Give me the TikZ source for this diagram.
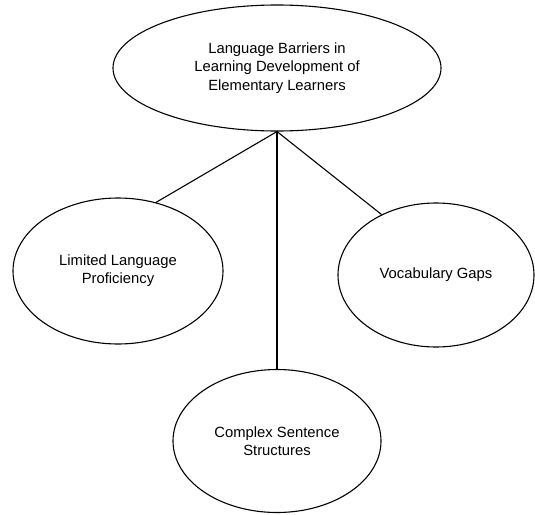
\documentclass[tikz,border=0pt]{standalone}
\usepackage{fontspec}
\setmainfont{Liberation Sans}
\usetikzlibrary{shapes.geometric}
\begin{document}
\begin{tikzpicture}[x=1pt,y=-1pt,
  bubble/.style={draw=black, line width=1.1pt, ellipse, inner sep=0pt,
    align=center, font=\fontsize{14.8}{18.3}\selectfont},
  link/.style={draw=black, line width=1.1pt}]
\useasboundingbox (0,0) rectangle (535,514);
% central topic
\node[bubble, minimum width=328pt, minimum height=126pt] (top) at (277,68)
  {Language Barriers in\\Learning Development of\\Elementary Learners};
% three sub-topics
\node[bubble, minimum width=210pt, minimum height=146pt] (lim) at (118,271)
  {Limited Language\\Proficiency};
\node[bubble, minimum width=196pt, minimum height=144pt] (voc) at (436,275)
  {Vocabulary Gaps};
\node[bubble, minimum width=208pt, minimum height=143pt] (cpx) at (277,441)
  {Complex Sentence\\Structures};
% connectors from the bottom of the central topic
\draw[link] (top.south) -- (lim.61.5);
\draw[link] (top.south) -- (voc.132);
\draw[link] (top.south) -- (cpx.north);
\end{tikzpicture}
\end{document}
